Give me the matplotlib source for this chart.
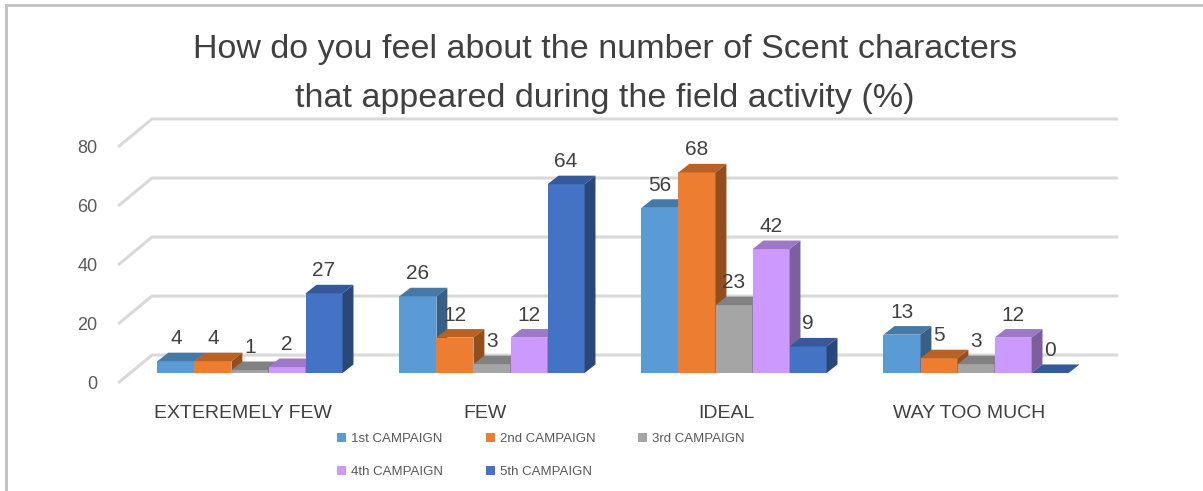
import numpy as np
import matplotlib.pyplot as plt
from matplotlib.patches import Polygon, Rectangle, Patch
from matplotlib.colors import to_rgb
from matplotlib.lines import Line2D

plt.rcParams["font.family"] = ["Liberation Sans", "DejaVu Sans"]

# --------------------------------------------------
# Daten
# --------------------------------------------------
categories = ["EXTEREMELY FEW", "FEW", "IDEAL", "WAY TOO MUCH"]
series = ["1st CAMPAIGN", "2nd CAMPAIGN", "3rd CAMPAIGN", "4th CAMPAIGN", "5th CAMPAIGN"]

campaign_1 = [4, 26, 56, 13]
campaign_2 = [4, 12, 68, 5]
campaign_3 = [1, 3, 23, 3]
campaign_4 = [2, 12, 42, 12]
campaign_5 = [27, 64, 9, 0]

values = [campaign_1, campaign_2, campaign_3, campaign_4, campaign_5]
colors = ["#5B9BD5", "#ED7D31", "#A5A5A5", "#CC99FF", "#4472C4"]

yticks = [0, 20, 40, 60, 80]

# --------------------------------------------------
# Geometrie (Pseudo-3D)
# --------------------------------------------------
W = 0.153          # Balkenbreite
BDX, BDY = 0.045, 2.9     # Tiefe der Balken
WALL_FRONT_X, WALL_BACK_X, WALL_RIGHT_X = -0.545, -0.405, 3.587
FLOOR_FRONT, FLOOR_BACK = -3.4, 6.1
GRID = "#D9D9D9"
TXT = "#404040"


def shade(c, f):
    r, g, b = to_rgb(c)
    return (r * f, g * f, b * f)


fig = plt.figure(figsize=(12.03, 4.91), dpi=100)
ax = fig.add_axes([60 / 1203, (491 - 420) / 491, 1100 / 1203, 315 / 491])
ax.set_xlim(-0.785, 3.760)
ax.set_ylim(-15.93, 90.85)
ax.axis("off")

# Rahmen
fig.add_artist(Line2D([6 / 1203, 6 / 1203], [0, 1 - 5 / 491], transform=fig.transFigure,
                      color="#C0C0C0", lw=2))
fig.add_artist(Line2D([6 / 1203, 1], [1 - 5 / 491, 1 - 5 / 491], transform=fig.transFigure,
                      color="#C0C0C0", lw=2))

# Gitterlinien: Seitenwand + Rückwand
for t in yticks:
    ax.plot([WALL_FRONT_X, WALL_BACK_X, WALL_RIGHT_X],
            [t + FLOOR_FRONT, t + FLOOR_BACK, t + FLOOR_BACK],
            color=GRID, lw=2.2, zorder=1, solid_capstyle="butt")
    ax.text(WALL_FRONT_X - 0.085, t + FLOOR_FRONT - 0.4, str(t), ha="right", va="center",
            fontsize=13, color="#595959")

# Balken
z = 2
for i in range(len(categories)):
    for j, vals in enumerate(values):
        v = vals[i]
        c = colors[j]
        l = i - 2.5 * W + j * W
        r = l + W
        ax.add_patch(Rectangle((l, 0), W, v, facecolor=c, edgecolor="none", zorder=z))
        ax.add_patch(Polygon([(l, v), (r, v), (r + BDX, v + BDY), (l + BDX, v + BDY)],
                             closed=True, facecolor=shade(c, 0.78), edgecolor="none", zorder=z))
        ax.add_patch(Polygon([(r, 0), (r, v), (r + BDX, v + BDY), (r + BDX, BDY)],
                             closed=True, facecolor=shade(c, 0.62), edgecolor="none", zorder=z))
        z += 1
        ax.text(l + W / 2, v + BDY + 1.5, str(v), ha="center", va="bottom",
                fontsize=15, color=TXT, zorder=100)

for i, cat in enumerate(categories):
    ax.text(i - 0.03, -13.6, cat, ha="center", va="center", fontsize=14, color=TXT)

fig.text(0.503, 1 - 74 / 491,
         "How do you feel about the number of Scent characters\n"
         "that appeared during the field activity (%)",
         ha="center", va="center", fontsize=24.5, color=TXT, linespacing=1.75)

# Legende zeilenweise: 1st 2nd 3rd / 4th 5th
order = [0, 3, 1, 4, 2]
handles = [Patch(facecolor=colors[k], edgecolor="none") for k in order]
labels = [series[k] for k in order]
fig.legend(handles, labels, ncol=3, loc="upper left",
           bbox_to_anchor=(325 / 1203, 1 - 421 / 491), frameon=False,
           fontsize=9.5, handlelength=0.7, handleheight=0.7, handletextpad=0.4,
           columnspacing=3.2, labelspacing=1.6, labelcolor="#595959")

fig.savefig("out.png", dpi=100)
